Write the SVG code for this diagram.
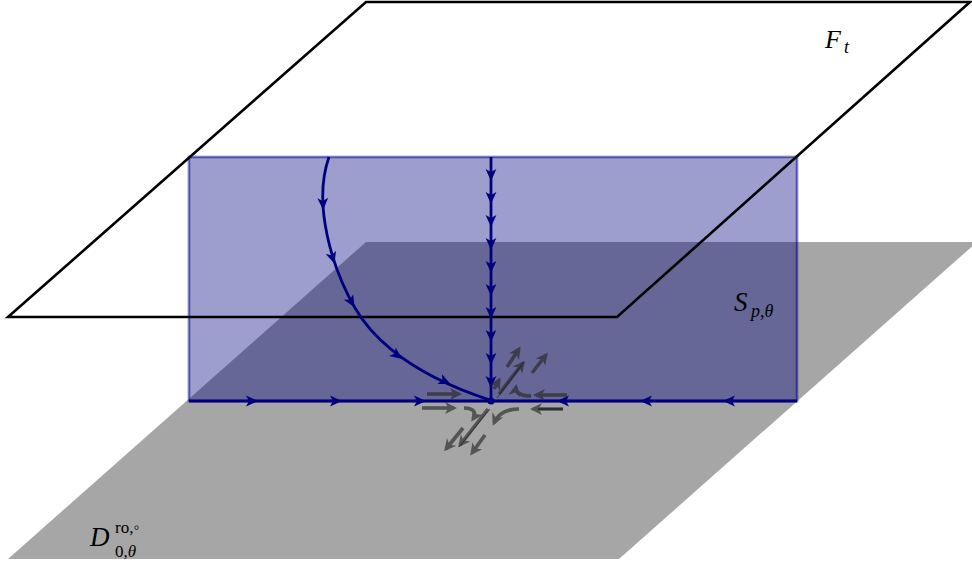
<svg xmlns="http://www.w3.org/2000/svg" xmlns:xlink="http://www.w3.org/1999/xlink" width="972" height="564" viewBox="0 0 972 564">
<style>
.plane{fill:none;stroke:#000;stroke-width:2.6;stroke-linejoin:miter}
.nv{fill:none;stroke:#00007f;stroke-width:2.8}
.nh{fill:#00007f}
.ga{opacity:0.64}
.ga path{fill:none;stroke:#262626;stroke-width:3.6;marker-end:url(#gh)}
.m{font-family:"Liberation Serif","DejaVu Serif",serif;font-style:italic;fill:#000}
.r{font-family:"Liberation Serif","DejaVu Serif",serif;font-style:normal;fill:#000}
</style>
<defs>
<path id="ah" d="M5,0 L-7,-5.4 L-4,0 L-7,5.4 Z"/>
<marker id="gh" markerUnits="userSpaceOnUse" viewBox="-1 -8 15 16" refX="9" refY="0" markerWidth="15" markerHeight="16" orient="auto">
<path d="M12,0 L0,-6 L3.4,0 L0,6 Z" fill="#262626"/>
</marker>
</defs>

<g id="plane-D">
<polygon points="366,242 977,242 619,559 8,559" fill="#a6a6a6"/>
</g>

<g id="surface-S">
<rect x="189" y="157" width="608" height="244" fill="#00007f" fill-opacity="0.38" stroke="#00007f" stroke-opacity="0.5" stroke-width="2.6"/>
</g>

<g id="plane-F">
<polygon class="plane" points="8,317 366,2 970,2 617,317"/>
</g>

<g id="flow-lines">
<line class="nv" x1="189" y1="401" x2="797" y2="401"/>
<line class="nv" x1="491" y1="157" x2="491" y2="401"/>
<path class="nv" d="M329,157 C312,205 333,270 355,308 C366,327 397,370 490,400"/>
<g class="nh">
<use xlink:href="#ah" transform="translate(253,401)"/>
<use xlink:href="#ah" transform="translate(337,401)"/>
<use xlink:href="#ah" transform="translate(421,401)"/>
<use xlink:href="#ah" transform="translate(562,401) rotate(180)"/>
<use xlink:href="#ah" transform="translate(645,401) rotate(180)"/>
<use xlink:href="#ah" transform="translate(728,401) rotate(180)"/>
<use xlink:href="#ah" transform="translate(491,176) rotate(90)"/>
<use xlink:href="#ah" transform="translate(491,199) rotate(90)"/>
<use xlink:href="#ah" transform="translate(491,222) rotate(90)"/>
<use xlink:href="#ah" transform="translate(491,245) rotate(90)"/>
<use xlink:href="#ah" transform="translate(491,268) rotate(90)"/>
<use xlink:href="#ah" transform="translate(491,291) rotate(90)"/>
<use xlink:href="#ah" transform="translate(491,314) rotate(90)"/>
<use xlink:href="#ah" transform="translate(491,337) rotate(90)"/>
<use xlink:href="#ah" transform="translate(491,360) rotate(90)"/>
<use xlink:href="#ah" transform="translate(491,383) rotate(90)"/>
<use xlink:href="#ah" transform="translate(323,205) rotate(88)"/>
<use xlink:href="#ah" transform="translate(333,259) rotate(72)"/>
<use xlink:href="#ah" transform="translate(352,303) rotate(60)"/>
<use xlink:href="#ah" transform="translate(398,356) rotate(37)"/>
<use xlink:href="#ah" transform="translate(446,382) rotate(25)"/>
</g>
</g>

<g id="local-flow">
<g class="ga">
<path d="M427,394 L459,394"/>
<path d="M422,408 L454,408"/>
<path d="M567,395 L536,395"/>
<path d="M563,409 L533,409"/>
<path d="M464,408 C474,408 477,413 473,419"/>
<path d="M519,409 C506,409 498,414 494,423"/>
<path d="M531,396 C520,396 515,392 516,387"/>
<path d="M499,394 L523,363"/>
<path d="M507,367 L519,349"/>
<path d="M532,373 L546,355"/>
<path d="M494,389 L499,380"/>
<path d="M488,409 L460,445"/>
<path d="M463,428 L446,449"/>
<path d="M485,435 L472,453"/>
</g>
<g stroke="#111" stroke-width="1" opacity="0.55">
<line x1="490" y1="409" x2="459" y2="447"/>
<line x1="497" y1="398" x2="524" y2="362"/>
<line x1="538" y1="409" x2="563" y2="409" stroke-width="2"/>
</g>
</g>

<g id="critical-point">
<circle cx="491" cy="401" r="3.6" fill="#00007f"/>
</g>

<g id="labels">
<text class="m" x="825" y="48" font-size="26">F</text>
<text class="m" x="844" y="53" font-size="18">t</text>
<text class="m" x="734" y="311" font-size="27">S</text>
<text x="751" y="317" font-size="18"><tspan class="m">p</tspan><tspan class="r">,</tspan><tspan class="m">θ</tspan></text>
<text class="m" x="90" y="546" font-size="27">D</text>
<text class="r" x="115" y="533" font-size="17">ro,◦</text>
<text x="115" y="557" font-size="17"><tspan class="r">0,</tspan><tspan class="m">θ</tspan></text>
</g>
</svg>
